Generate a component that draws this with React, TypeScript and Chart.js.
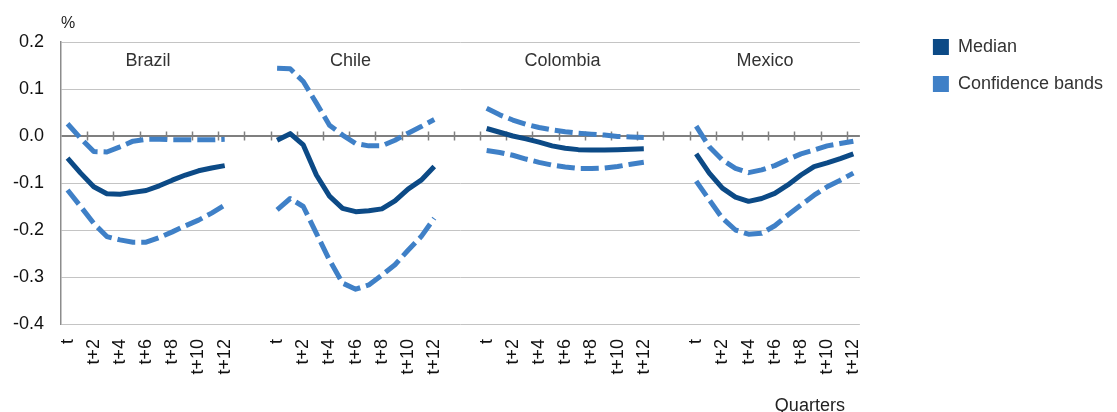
import { useEffect, useRef } from 'react';
import { Chart, registerables } from 'chart.js';

Chart.register(...registerables);

const FONT = '"Liberation Sans", Arial, Helvetica, sans-serif';

// Horizon labels for each country panel, and blank slots between panels
const quarters = ['t', 't+1', 't+2', 't+3', 't+4', 't+5', 't+6', 't+7', 't+8', 't+9', 't+10', 't+11', 't+12'];
const countries = ['Brazil', 'Chile', 'Colombia', 'Mexico'];
const panelGap = 3;

// Impulse responses, % (median and confidence bands)
const brazilMedian = [-0.047, -0.079, -0.108, -0.123, -0.124, -0.12, -0.116, -0.106, -0.094, -0.083, -0.074, -0.068, -0.063];
const brazilUpper = [0.026, -0.005, -0.033, -0.034, -0.023, -0.011, -0.007, -0.007, -0.008, -0.008, -0.008, -0.008, -0.007];
const brazilLower = [-0.115, -0.15, -0.186, -0.214, -0.221, -0.226, -0.226, -0.216, -0.204, -0.191, -0.179, -0.164, -0.147];

const chileMedian = [-0.009, 0.005, -0.019, -0.083, -0.128, -0.154, -0.161, -0.159, -0.155, -0.138, -0.113, -0.094, -0.065];
const chileUpper = [0.144, 0.143, 0.116, 0.07, 0.023, 0.002, -0.016, -0.021, -0.021, -0.009, 0.006, 0.02, 0.035];
const chileLower = [-0.157, -0.133, -0.15, -0.207, -0.264, -0.313, -0.326, -0.317, -0.296, -0.274, -0.243, -0.214, -0.175];

const colombiaMedian = [0.016, 0.008, 0, -0.006, -0.013, -0.021, -0.026, -0.029, -0.03, -0.03, -0.029, -0.028, -0.027];
const colombiaUpper = [0.059, 0.045, 0.034, 0.025, 0.018, 0.013, 0.009, 0.006, 0.004, 0.002, -0.001, -0.002, -0.003];
const colombiaLower = [-0.031, -0.035, -0.041, -0.049, -0.056, -0.062, -0.066, -0.069, -0.069, -0.068, -0.065, -0.06, -0.056];

const mexicoMedian = [-0.038, -0.079, -0.111, -0.13, -0.139, -0.133, -0.122, -0.104, -0.083, -0.065, -0.057, -0.048, -0.038];
const mexicoUpper = [0.021, -0.023, -0.051, -0.069, -0.078, -0.072, -0.063, -0.05, -0.038, -0.03, -0.021, -0.016, -0.011];
const mexicoLower = [-0.096, -0.136, -0.175, -0.2, -0.209, -0.207, -0.191, -0.168, -0.147, -0.126, -0.108, -0.094, -0.079];

const yTicks = { min: -0.4, max: 0.2, step: 0.1 };

const MEDIAN_COLOR = '#0c4a86';
const BAND_COLOR = '#3f80c7';

// Lay the four panels side by side on one category axis, separated by empty slots
function joinPanels(series: number[][]): (number | null)[] {
  const out: (number | null)[] = [];
  series.forEach((s, i) => {
    if (i > 0) for (let g = 0; g < panelGap; g++) out.push(null);
    out.push(...s);
  });
  return out;
}

const axisLabels: string[] = countries.flatMap((_, i) =>
  i === 0 ? quarters : [...Array(panelGap).fill(''), ...quarters]
);
const panelStarts = countries.map((_, i) => i * (quarters.length + panelGap));

// Small horizontal nudges (in category units) for the panel names
const titleNudge = [0.15, -0.4, -0.2, -0.75];

const panelDecor = {
  id: 'panelDecor',
  beforeDatasetsDraw(chart: any) {
    const { ctx, scales } = chart;
    const x = scales.x;
    const y = scales.y;
    const y0 = y.getPixelForValue(0);
    const step = x.getPixelForValue(1) - x.getPixelForValue(0);
    ctx.save();
    ctx.strokeStyle = '#808080';
    ctx.lineWidth = 1.5;
    for (let k = 2; k < axisLabels.length; k += 2) {
      const px = Math.round(x.getPixelForValue(k) - step / 2) + 0.5;
      ctx.beginPath();
      ctx.moveTo(px, y0 - 4.5);
      ctx.lineTo(px, y0 + 4.5);
      ctx.stroke();
    }
    ctx.restore();
  },
  afterDraw(chart: any) {
    const { ctx, chartArea, scales } = chart;
    const x = scales.x;
    ctx.save();
    ctx.font = `18px ${FONT}`;
    ctx.fillStyle = '#333';
    ctx.textAlign = 'center';
    ctx.textBaseline = 'alphabetic';
    countries.forEach((name, i) => {
      const cx = x.getPixelForValue(panelStarts[i] + (quarters.length - 1) / 2 + titleNudge[i]);
      ctx.fillText(name, cx, chartArea.top + 23.5);
    });
    ctx.fillStyle = '#222';
    ctx.textAlign = 'right';
    ctx.fillText('Quarters', chartArea.right - 15, chartArea.bottom + 87);
    ctx.restore();
  },
};

const lineStyle = {
  borderJoinStyle: 'round',
  pointRadius: 0,
  tension: 0,
  spanGaps: false,
  borderWidth: 5,
};

export default function App() {
  const canvasRef = useRef<HTMLCanvasElement | null>(null);

  useEffect(() => {
    const canvas = canvasRef.current;
    if (!canvas) return;
    Chart.defaults.font.family = FONT;

    const chart = new Chart(canvas, {
      type: 'line',
      data: {
        labels: axisLabels,
        datasets: [
          {
            ...lineStyle,
            label: 'Median',
            data: joinPanels([brazilMedian, chileMedian, colombiaMedian, mexicoMedian]),
            borderColor: MEDIAN_COLOR,
            backgroundColor: MEDIAN_COLOR,
          },
          {
            ...lineStyle,
            label: 'Confidence bands',
            data: joinPanels([brazilUpper, chileUpper, colombiaUpper, mexicoUpper]),
            borderColor: BAND_COLOR,
            backgroundColor: BAND_COLOR,
            borderDash: [18, 6],
          },
          {
            ...lineStyle,
            label: 'Lower band',
            data: joinPanels([brazilLower, chileLower, colombiaLower, mexicoLower]),
            borderColor: BAND_COLOR,
            backgroundColor: BAND_COLOR,
            borderDash: [18, 6],
          },
        ],
      },
      options: {
        responsive: false,
        animation: false,
        events: [],
        layout: { padding: { top: 19, right: 4, bottom: 0, left: 0 } },
        plugins: {
          title: {
            display: true,
            text: '%',
            position: 'top',
            align: 'start',
            fullSize: false,
            color: '#222',
            font: { size: 16, weight: 'normal', lineHeight: 1 },
            padding: { top: -3, bottom: 10 },
          },
          legend: {
            display: true,
            position: 'right',
            align: 'start',
            maxWidth: 400,
            labels: {
              boxWidth: 16,
              boxHeight: 16,
              padding: 19,
              color: '#333',
              font: { size: 18 },
              filter: (item: any) => item.datasetIndex !== 2,
              generateLabels: (c: any) =>
                Chart.defaults.plugins.legend.labels
                  .generateLabels(c)
                  .map((item: any) => ({ ...item, fillStyle: item.strokeStyle, lineWidth: 0, lineDash: [] })),
            },
          },
          tooltip: { enabled: false },
        },
        scales: {
          x: {
            type: 'category',
            offset: true,
            grid: { display: false },
            border: { display: false },
            ticks: {
              autoSkip: false,
              minRotation: 90,
              maxRotation: 90,
              padding: 7,
              color: '#111',
              font: { size: 18 },
              callback(this: any, value: any) {
                const label = this.getLabelForValue(value);
                const m = /^t(?:\+(\d+))?$/.exec(label);
                if (!m) return '';
                const n = m[1] ? Number(m[1]) : 0;
                return n % 2 === 0 ? label : '';
              },
            },
            afterFit: (s: any) => {
              s.height = 88;
            },
          },
          y: {
            type: 'linear',
            min: yTicks.min,
            max: yTicks.max,
            ticks: {
              stepSize: yTicks.step,
              padding: 17,
              color: '#111',
              font: { size: 18 },
              callback: (v: any) => (Math.abs(Number(v)) < 1e-9 ? '0.0' : Number(v).toFixed(1)),
            },
            grid: {
              drawTicks: false,
              color: (c: any) => (Math.abs(c.tick.value) < 1e-9 ? '#7f7f7f' : '#c4c4c4'),
              lineWidth: (c: any) => (Math.abs(c.tick.value) < 1e-9 ? 2 : 1),
            },
            border: { display: true, color: '#8c8c8c', width: 1.5 },
            afterFit: (s: any) => {
              s.width = 61;
            },
          },
          gap: {
            type: 'linear',
            position: 'right',
            grid: { display: false },
            border: { display: false },
            ticks: { display: false },
            afterFit: (s: any) => {
              s.width = 54;
            },
          },
        },
      },
      plugins: [panelDecor],
    } as any);

    return () => chart.destroy();
  }, []);

  return (
    <div style={{ position: 'absolute', left: 0, top: 0, width: 1117, height: 412, background: '#fff' }}>
      <canvas ref={canvasRef} width={1117} height={412} style={{ display: 'block' }} />
    </div>
  );
}
